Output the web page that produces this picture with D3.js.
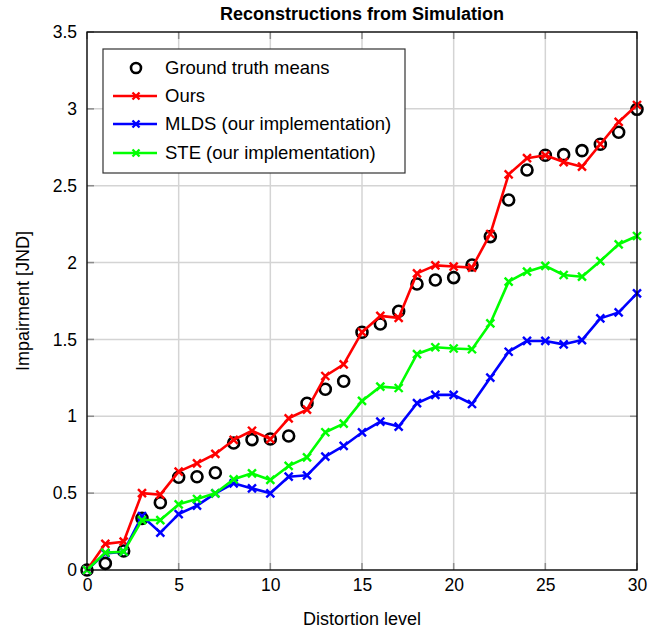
<!DOCTYPE html>
<html>
<head>
<meta charset="utf-8">
<style>
body { margin: 0; background: #fff; }
svg { font-family: "Liberation Sans", Arial, Helvetica, sans-serif; }
</style>
</head>
<body>
<svg width="664" height="631"></svg>
<script src="https://d3js.org/d3.v7.min.js"></script>
<script>

var levels = d3.range(0, 31);

var groundTruth = [0, 0.043, 0.124, 0.336, 0.438, 0.603, 0.607, 0.633, 0.826, 0.848, 0.852,
  0.872, 1.085, 1.176, 1.228, 1.547, 1.600, 1.683, 1.861, 1.887, 1.902,
  1.984, 2.169, 2.407, 2.602, 2.698, 2.702, 2.728, 2.770, 2.848, 2.997];

var ours = [0, 0.17, 0.184, 0.50, 0.49, 0.64, 0.694, 0.755, 0.846, 0.906, 0.852,
  0.987, 1.043, 1.262, 1.338, 1.547, 1.653, 1.640, 1.930, 1.982, 1.974,
  1.967, 2.186, 2.574, 2.679, 2.698, 2.654, 2.624, 2.770, 2.915, 3.025];

var mlds = [0, 0.108, 0.119, 0.351, 0.243, 0.364, 0.419, 0.499, 0.564, 0.531, 0.499,
  0.607, 0.616, 0.737, 0.807, 0.895, 0.965, 0.933, 1.085, 1.139, 1.139,
  1.080, 1.251, 1.420, 1.490, 1.490, 1.468, 1.496, 1.637, 1.676, 1.800];

var ste = [0, 0.113, 0.119, 0.325, 0.325, 0.427, 0.462, 0.499, 0.590, 0.629, 0.586,
  0.677, 0.733, 0.896, 0.952, 1.100, 1.193, 1.184, 1.405, 1.449, 1.441,
  1.436, 1.605, 1.876, 1.941, 1.978, 1.919, 1.908, 2.010, 2.119, 2.173];

var xTicks = [0, 5, 10, 15, 20, 25, 30];
var yTicks = [0, 0.5, 1, 1.5, 2, 2.5, 3, 3.5];

var series = [
  { name: "Ours", values: ours, color: "#ff0000" },
  { name: "MLDS (our implementation)", values: mlds, color: "#0000ff" },
  { name: "STE (our implementation)", values: ste, color: "#00ff00" }
];

var svg = d3.select("svg"),
    margin = { top: 32, right: 27, bottom: 61, left: 87 },
    width = +svg.attr("width") - margin.left - margin.right,
    height = +svg.attr("height") - margin.top - margin.bottom;

var x = d3.scaleLinear().domain([0, 30]).range([0, width]);
var y = d3.scaleLinear().domain([0, 3.5]).range([height, 0]);

var g = svg.append("g").attr("transform", "translate(" + margin.left + "," + margin.top + ")");

// grid
g.append("g").selectAll("line").data(xTicks).enter().append("line")
    .attr("x1", function(d) { return x(d); }).attr("x2", function(d) { return x(d); })
    .attr("y1", 0).attr("y2", height)
    .attr("stroke", "#d4d4d4").attr("stroke-width", 1.5);
g.append("g").selectAll("line").data(yTicks).enter().append("line")
    .attr("y1", function(d) { return y(d); }).attr("y2", function(d) { return y(d); })
    .attr("x1", 0).attr("x2", width)
    .attr("stroke", "#d4d4d4").attr("stroke-width", 1.5);

// inward tick marks
var tickLen = 7;
function ticks(sel, data, fn) {
  sel.selectAll(null).data(data).enter().append("line").each(fn)
    .attr("stroke", "#8c8c8c").attr("stroke-width", 1.5);
}
var tg = g.append("g");
ticks(tg, xTicks, function(d) { d3.select(this).attr("x1", x(d)).attr("x2", x(d)).attr("y1", height).attr("y2", height - tickLen); });
ticks(tg, xTicks, function(d) { d3.select(this).attr("x1", x(d)).attr("x2", x(d)).attr("y1", 0).attr("y2", tickLen); });
ticks(tg, yTicks, function(d) { d3.select(this).attr("y1", y(d)).attr("y2", y(d)).attr("x1", 0).attr("x2", tickLen); });
ticks(tg, yTicks, function(d) { d3.select(this).attr("y1", y(d)).attr("y2", y(d)).attr("x1", width).attr("x2", width - tickLen); });

// axes labels
var xAxis = d3.axisBottom(x).tickValues(xTicks).tickSize(0).tickPadding(9).tickFormat(d3.format("d"));
var yAxis = d3.axisLeft(y).tickValues(yTicks).tickSize(0).tickPadding(10).tickFormat(function(d) { return String(d); });

var xg = g.append("g").attr("transform", "translate(0," + height + ")").call(xAxis);
var yg = g.append("g").call(yAxis);
[xg, yg].forEach(function(a) {
  a.select(".domain").remove();
  a.selectAll("text").attr("font-size", 17.5).attr("fill", "#000")
    .attr("font-family", "'Liberation Sans', Arial, sans-serif");
});

// ground truth circles
g.append("g").selectAll("circle").data(groundTruth).enter().append("circle")
    .attr("cx", function(d, i) { return x(levels[i]); })
    .attr("cy", function(d) { return y(d); })
    .attr("r", 5.5)
    .attr("fill", "none").attr("stroke", "#000").attr("stroke-width", 2.6);

var line = d3.line().x(function(d, i) { return x(levels[i]); }).y(function(d) { return y(d); });

function crossPath(cx, cy, s) {
  return "M" + (cx - s) + "," + (cy - s) + "L" + (cx + s) + "," + (cy + s) +
         "M" + (cx - s) + "," + (cy + s) + "L" + (cx + s) + "," + (cy - s);
}

series.forEach(function(s) {
  var sg = g.append("g");
  sg.append("path").datum(s.values)
      .attr("d", line).attr("fill", "none")
      .attr("stroke", s.color).attr("stroke-width", 2.6).attr("stroke-linejoin", "round");
  sg.selectAll("path.m").data(s.values).enter().append("path").attr("class", "m")
      .attr("d", function(d, i) { return crossPath(x(levels[i]), y(d), 4); })
      .attr("stroke", s.color).attr("stroke-width", 2.4).attr("fill", "none");
});

// frame
g.append("rect").attr("width", width).attr("height", height)
    .attr("fill", "none").attr("stroke", "#000").attr("stroke-width", 1.3);

// legend
var lg = svg.append("g").attr("transform", "translate(103,49)");
lg.append("rect").attr("width", 302).attr("height", 124)
    .attr("fill", "#fff").attr("stroke", "#333").attr("stroke-width", 1.2);
var rowY = [19, 47, 75, 104];
lg.append("circle").attr("cx", 33).attr("cy", rowY[0]).attr("r", 5)
    .attr("fill", "none").attr("stroke", "#000").attr("stroke-width", 2.6);
lg.append("text").attr("x", 62).attr("y", rowY[0]).attr("dy", "0.35em")
    .attr("font-size", 18.5).text("Ground truth means");
series.forEach(function(s, i) {
  var ry = rowY[i + 1];
  lg.append("line").attr("x1", 10).attr("x2", 54).attr("y1", ry).attr("y2", ry)
      .attr("stroke", s.color).attr("stroke-width", 2.6);
  lg.append("path").attr("d", crossPath(33, ry, 3.5))
      .attr("stroke", s.color).attr("stroke-width", 2.4);
  lg.append("text").attr("x", 62).attr("y", ry).attr("dy", "0.35em")
      .attr("font-size", 18.5).text(s.name);
});

// titles
svg.append("text").attr("x", margin.left + width / 2).attr("y", 20)
    .attr("text-anchor", "middle").attr("font-size", 18).attr("font-weight", "bold")
    .text("Reconstructions from Simulation");
svg.append("text").attr("x", margin.left + width / 2).attr("y", 625)
    .attr("text-anchor", "middle").attr("font-size", 18)
    .text("Distortion level");
svg.append("text").attr("transform", "translate(29," + (margin.top + height / 2) + ") rotate(-90)")
    .attr("text-anchor", "middle").attr("font-size", 18)
    .text("Impairment [JND]");

</script>
</body>
</html>
